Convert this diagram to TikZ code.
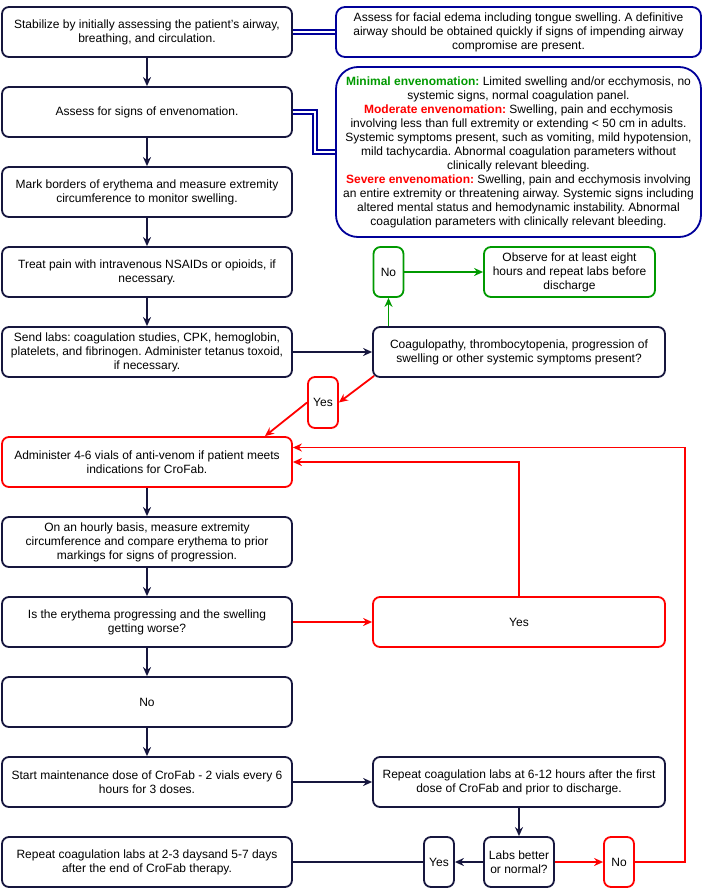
\documentclass[tikz,border=0pt]{standalone}
\usepackage{fontspec}
\setmainfont{Liberation Sans}
\usepackage{tikz}
\usetikzlibrary{arrows.meta,calc}
\definecolor{flownavy}{RGB}{22,22,62}
\definecolor{flowblue}{RGB}{0,0,153}
\definecolor{flowgreen}{RGB}{0,153,0}
\definecolor{flowred}{RGB}{255,0,0}
\frenchspacing

\begin{document}
\begin{tikzpicture}[x=1pt, y=-1pt,
    box/.style={draw=flownavy, rounded corners=7pt, line width=1.8pt, align=center, inner sep=2pt, minimum height=50pt, font=\fontsize{12}{14}\selectfont},
    stepbox/.style={box, minimum width=290pt},
    infobox/.style={box, draw=flowblue, minimum width=365pt, rounded corners=9pt},
    okbox/.style={box, draw=flowgreen},
    alertbox/.style={box, draw=flowred},
    smallbox/.style={minimum width=30pt},
    flow/.style={-{Stealth[length=9pt,width=8pt]}, line width=1.8pt, draw=flownavy},
    okflow/.style={flow, draw=flowgreen},
    alertflow/.style={flow, draw=flowred},
    link/.style={draw=flowblue, line width=1.7pt, double, double distance=1.8pt}
  ]
  \useasboundingbox (0,0) rectangle (702,889);

  % main column
  \node[stepbox] (stabilize) at (147,32) {Stabilize by initially assessing the patient's airway,\\breathing, and circulation.};
  \node[stepbox] (signs) at (147,112) {Assess for signs of envenomation.};
  \node[stepbox] (borders) at (147,192) {Mark borders of erythema and measure extremity\\circumference to monitor swelling.};
  \node[stepbox] (pain) at (147,272) {Treat pain with intravenous NSAIDs or opioids, if\\necessary.};
  \node[stepbox] (labs) at (147,352) {Send labs: coagulation studies, CPK, hemoglobin,\\platelets, and fibrinogen. Administer tetanus toxoid,\\if necessary.};
  \node[stepbox, draw=flowred] (antivenom) at (147,462) {Administer 4-6 vials of anti-venom if patient meets\\indications for CroFab.};
  \node[stepbox] (hourly) at (147,542) {On an hourly basis, measure extremity\\circumference and compare erythema to prior\\markings for signs of progression.};
  \node[stepbox] (worse) at (147,622) {Is the erythema progressing and the swelling\\getting worse?};
  \node[stepbox] (notworse) at (147,702) {No};
  \node[stepbox] (maintain) at (147,782) {Start maintenance dose of CroFab - 2 vials every 6\\hours for 3 doses.};
  \node[stepbox] (followup) at (147,862) {Repeat coagulation labs at 2-3 daysand 5-7 days\\after the end of CroFab therapy.};

  % right column
  \node[infobox] (edema) at (518.5,32) {Assess for facial edema including tongue swelling. A definitive\\airway should be obtained quickly if signs of impending airway\\compromise are present.};
  \node[infobox, minimum height=170pt, rounded corners=22pt] (grades) at (518.5,152) {{\bfseries\color{flowgreen}Minimal envenomation:} Limited swelling and/or ecchymosis, no\\systemic signs, normal coagulation panel.\\{\bfseries\color{flowred}Moderate envenomation:} Swelling, pain and ecchymosis\\involving less than full extremity or extending < 50 cm in adults.\\Systemic symptoms present, such as vomiting, mild hypotension,\\mild tachycardia. Abnormal coagulation parameters without\\clinically relevant bleeding.\\{\bfseries\color{flowred}Severe envenomation:} Swelling, pain and ecchymosis involving\\an entire extremity or threatening airway. Systemic signs including\\altered mental status and hemodynamic instability. Abnormal\\coagulation parameters with clinically relevant bleeding.};
  \node[okbox, smallbox] (nosymptoms) at (388.5,272) {No};
  \node[okbox, minimum width=171pt] (observe) at (569.5,272) {Observe for at least eight\\hours and repeat labs before\\discharge};
  \node[box, minimum width=292pt] (coag) at (519,352) {Coagulopathy, thrombocytopenia, progression of\\swelling or other systemic symptoms present?};
  \node[alertbox, smallbox, minimum height=51pt] (symptoms) at (323,402.5) {Yes};
  \node[alertbox, minimum width=292pt] (progress) at (519,622) {Yes};
  \node[box, minimum width=292pt] (recheck) at (519,782) {Repeat coagulation labs at 6-12 hours after the first\\dose of CroFab and prior to discharge.};
  \node[box, minimum width=70pt] (better) at (519,862) {Labs better\\or normal?};
  \node[box, smallbox] (improved) at (439,862) {Yes};
  \node[alertbox, smallbox] (notimproved) at (619,862) {No};
  \coordinate (loop) at (685,862);

  \draw[flow] (stabilize) -- (signs);
  \draw[flow] (signs) -- (borders);
  \draw[flow] (borders) -- (pain);
  \draw[flow] (pain) -- (labs);
  \draw[flow] (labs) -- (coag);
  \draw[link] (stabilize.east) -- (edema.west);
  \draw[link] (signs.east) -- ++(22,0) |- (grades.west);
  \draw[okflow] (coag.north -| nosymptoms) -- (nosymptoms.south);
  \draw[okflow] (nosymptoms) -- (observe);
  \draw[alertflow] ($(coag.south west)+(2,-2)$) -- (symptoms.east);
  \draw[alertflow] (symptoms.west) -- ([xshift=118pt]antivenom.north);
  \draw[flow] (antivenom) -- (hourly);
  \draw[flow] (hourly) -- (worse);
  \draw[alertflow] (worse) -- (progress);
  \draw[alertflow] (progress.north) |- (antivenom.east);
  \draw[flow] (worse) -- (notworse);
  \draw[flow] (notworse) -- (maintain);
  \draw[flow] (maintain) -- (recheck);
  \draw[flow] (recheck) -- (better);
  \draw[flow] (better) -- (improved);
  \draw[line width=1.8pt, draw=flownavy] (improved) -- (followup);
  \draw[alertflow] (better) -- (notimproved);
  \draw[alertflow] (notimproved.east) -- (loop) |- ([yshift=14.5pt]antivenom.east);
\end{tikzpicture}
\end{document}
